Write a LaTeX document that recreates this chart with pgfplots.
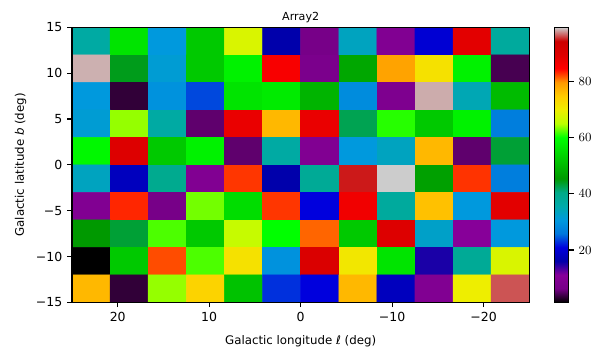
\documentclass[border=0pt]{standalone}
\usepackage{fontspec}
\setmainfont{DejaVu Sans}
\usepackage{pgfplots}
\usepackage{pgfplotstable}
\pgfplotsset{compat=1.18}

% cell values (top row first), columns from l=25 to l=-25
\pgfplotstableread{
x y c
22.9167 13.5 36.6
18.75 13.5 56.1
14.5833 13.5 30.7
10.4167 13.5 52.2
6.25 13.5 67.8
2.0833 13.5 16.1
-2.0833 13.5 6.3
-6.25 13.5 33.6
-10.4167 13.5 9.2
-14.5833 13.5 20.0
-18.75 13.5 88.4
-22.9167 13.5 37.5
22.9167 10.5 98.4
18.75 10.5 44.4
14.5833 10.5 31.7
10.4167 10.5 52.2
6.25 10.5 58.1
2.0833 10.5 85.4
-2.0833 10.5 7.3
-6.25 10.5 47.3
-10.4167 10.5 78.6
-14.5833 10.5 71.7
-18.75 10.5 58.1
-22.9167 10.5 4.3
22.9167 7.5 30.7
18.75 7.5 3.4
14.5833 7.5 29.7
10.4167 7.5 23.9
6.25 7.5 56.1
2.0833 7.5 57.1
-2.0833 7.5 49.3
-6.25 7.5 28.8
-10.4167 7.5 8.2
-14.5833 7.5 98.3
-18.75 7.5 34.6
-22.9167 7.5 50.3
22.9167 4.5 31.7
18.75 4.5 63.9
14.5833 4.5 36.6
10.4167 4.5 5.3
6.25 4.5 87.4
2.0833 4.5 76.6
-2.0833 4.5 87.4
-6.25 4.5 42.4
-10.4167 4.5 61.0
-14.5833 4.5 52.2
-18.75 4.5 58.1
-22.9167 4.5 26.8
22.9167 1.5 59.0
18.75 1.5 89.3
14.5833 1.5 52.2
10.4167 1.5 58.1
6.25 1.5 5.3
2.0833 1.5 36.6
-2.0833 1.5 9.2
-6.25 1.5 30.7
-10.4167 1.5 33.6
-14.5833 1.5 76.6
-18.75 1.5 5.3
-22.9167 1.5 43.4
22.9167 -1.5 33.6
18.75 -1.5 18.0
14.5833 -1.5 39.5
10.4167 -1.5 9.2
6.25 -1.5 82.7
2.0833 -1.5 16.1
-2.0833 -1.5 38.5
-6.25 -1.5 94.8
-10.4167 -1.5 99.1
-14.5833 -1.5 46.3
-18.75 -1.5 82.8
-22.9167 -1.5 26.8
22.9167 -4.5 9.2
18.75 -4.5 83.2
14.5833 -4.5 6.3
10.4167 -4.5 63.0
6.25 -4.5 55.1
2.0833 -4.5 82.7
-2.0833 -4.5 20.9
-6.25 -4.5 86.4
-10.4167 -4.5 37.5
-14.5833 -4.5 75.7
-18.75 -4.5 30.7
-22.9167 -4.5 88.4
22.9167 -7.5 45.4
18.75 -7.5 43.4
14.5833 -7.5 62.0
10.4167 -7.5 52.2
6.25 -7.5 65.9
2.0833 -7.5 60.0
-2.0833 -7.5 81.2
-6.25 -7.5 52.2
-10.4167 -7.5 89.3
-14.5833 -7.5 32.7
-18.75 -7.5 11.2
-22.9167 -7.5 30.7
22.9167 -10.5 1.4
18.75 -10.5 52.2
14.5833 -10.5 82.0
10.4167 -10.5 62.0
6.25 -10.5 71.7
2.0833 -10.5 29.7
-2.0833 -10.5 90.3
-6.25 -10.5 70.8
-10.4167 -10.5 56.1
-14.5833 -10.5 15.1
-18.75 -10.5 38.5
-22.9167 -10.5 67.8
22.9167 -13.5 76.6
18.75 -13.5 3.4
14.5833 -13.5 63.9
10.4167 -13.5 73.7
6.25 -13.5 51.2
2.0833 -13.5 22.9
-2.0833 -13.5 20.9
-6.25 -13.5 76.6
-10.4167 -13.5 18.0
-14.5833 -13.5 9.2
-18.75 -13.5 69.8
-22.9167 -13.5 96.2
}\cells

\pgfplotsset{
  colormap={nipy}{
    rgb=(0,0,0) rgb=(0.4667,0,0.5333) rgb=(0.5333,0,0.6) rgb=(0,0,0.6667)
    rgb=(0,0,0.8667) rgb=(0,0.4667,0.8667) rgb=(0,0.6,0.8667) rgb=(0,0.6667,0.6667)
    rgb=(0,0.6667,0.5333) rgb=(0,0.6,0) rgb=(0,0.7333,0) rgb=(0,0.8667,0)
    rgb=(0,1,0) rgb=(0.7333,1,0) rgb=(0.9333,0.9333,0) rgb=(1,0.8,0)
    rgb=(1,0.6,0) rgb=(1,0,0) rgb=(0.8667,0,0) rgb=(0.8,0,0) rgb=(0.8,0.8,0.8)
  }
}

\begin{document}
\begin{tikzpicture}
\begin{axis}[
  at={(0,0)}, anchor=south west,
  scale only axis,
  width=329.3pt, height=198pt,
  xmin=-25, xmax=25, ymin=-15, ymax=15,
  x dir=reverse,
  enlargelimits=false,
  axis on top,
  colormap name=nipy,
  point meta min=1.4, point meta max=99.1,
  xtick={20,10,0,-10,-20},
  xticklabels={20,10,0,−10,−20},
  ytick={-15,-10,-5,0,5,10,15},
  yticklabels={−15,−10,−5,0,5,10,15},
  tick align=outside,
  xtick pos=bottom, ytick pos=left,
  major tick length=3.5pt,
  every tick/.style={black, line width=0.8pt},
  axis line style={line width=0.8pt},
  tick label style={font=\fontsize{9}{10}\selectfont},
  title={Array2},
  title style={font=\fontsize{8}{9}\selectfont, yshift=-6.3pt},
  xlabel={Galactic longitude \textit{ℓ} (deg)},
  ylabel={Galactic latitude \textit{b} (deg)},
  label style={font=\fontsize{8.5}{10}\selectfont},
  xlabel style={yshift=-3pt},
  colorbar,
  colorbar style={
    at={(parent axis.north east)}, anchor=north west,
    xshift=9.3pt,
    width=10.6pt, height=198pt,
    ytick={20,40,60,80},
    yticklabel pos=right,
    ytick pos=right,
    tick align=outside,
    major tick length=3.5pt,
    every tick/.style={black, line width=0.8pt},
    axis line style={line width=0.8pt},
    tick label style={font=\fontsize{9}{10}\selectfont},
  },
]
\addplot[matrix plot*, mesh/cols=12, point meta=explicit, shader=flat corner]
  table[x=x, y=y, meta=c] {\cells};
\end{axis}
\pgfresetboundingbox
\useasboundingbox (-51.84pt,-40.1pt) rectangle (383.04pt,217.7pt);
\end{tikzpicture}
\end{document}
